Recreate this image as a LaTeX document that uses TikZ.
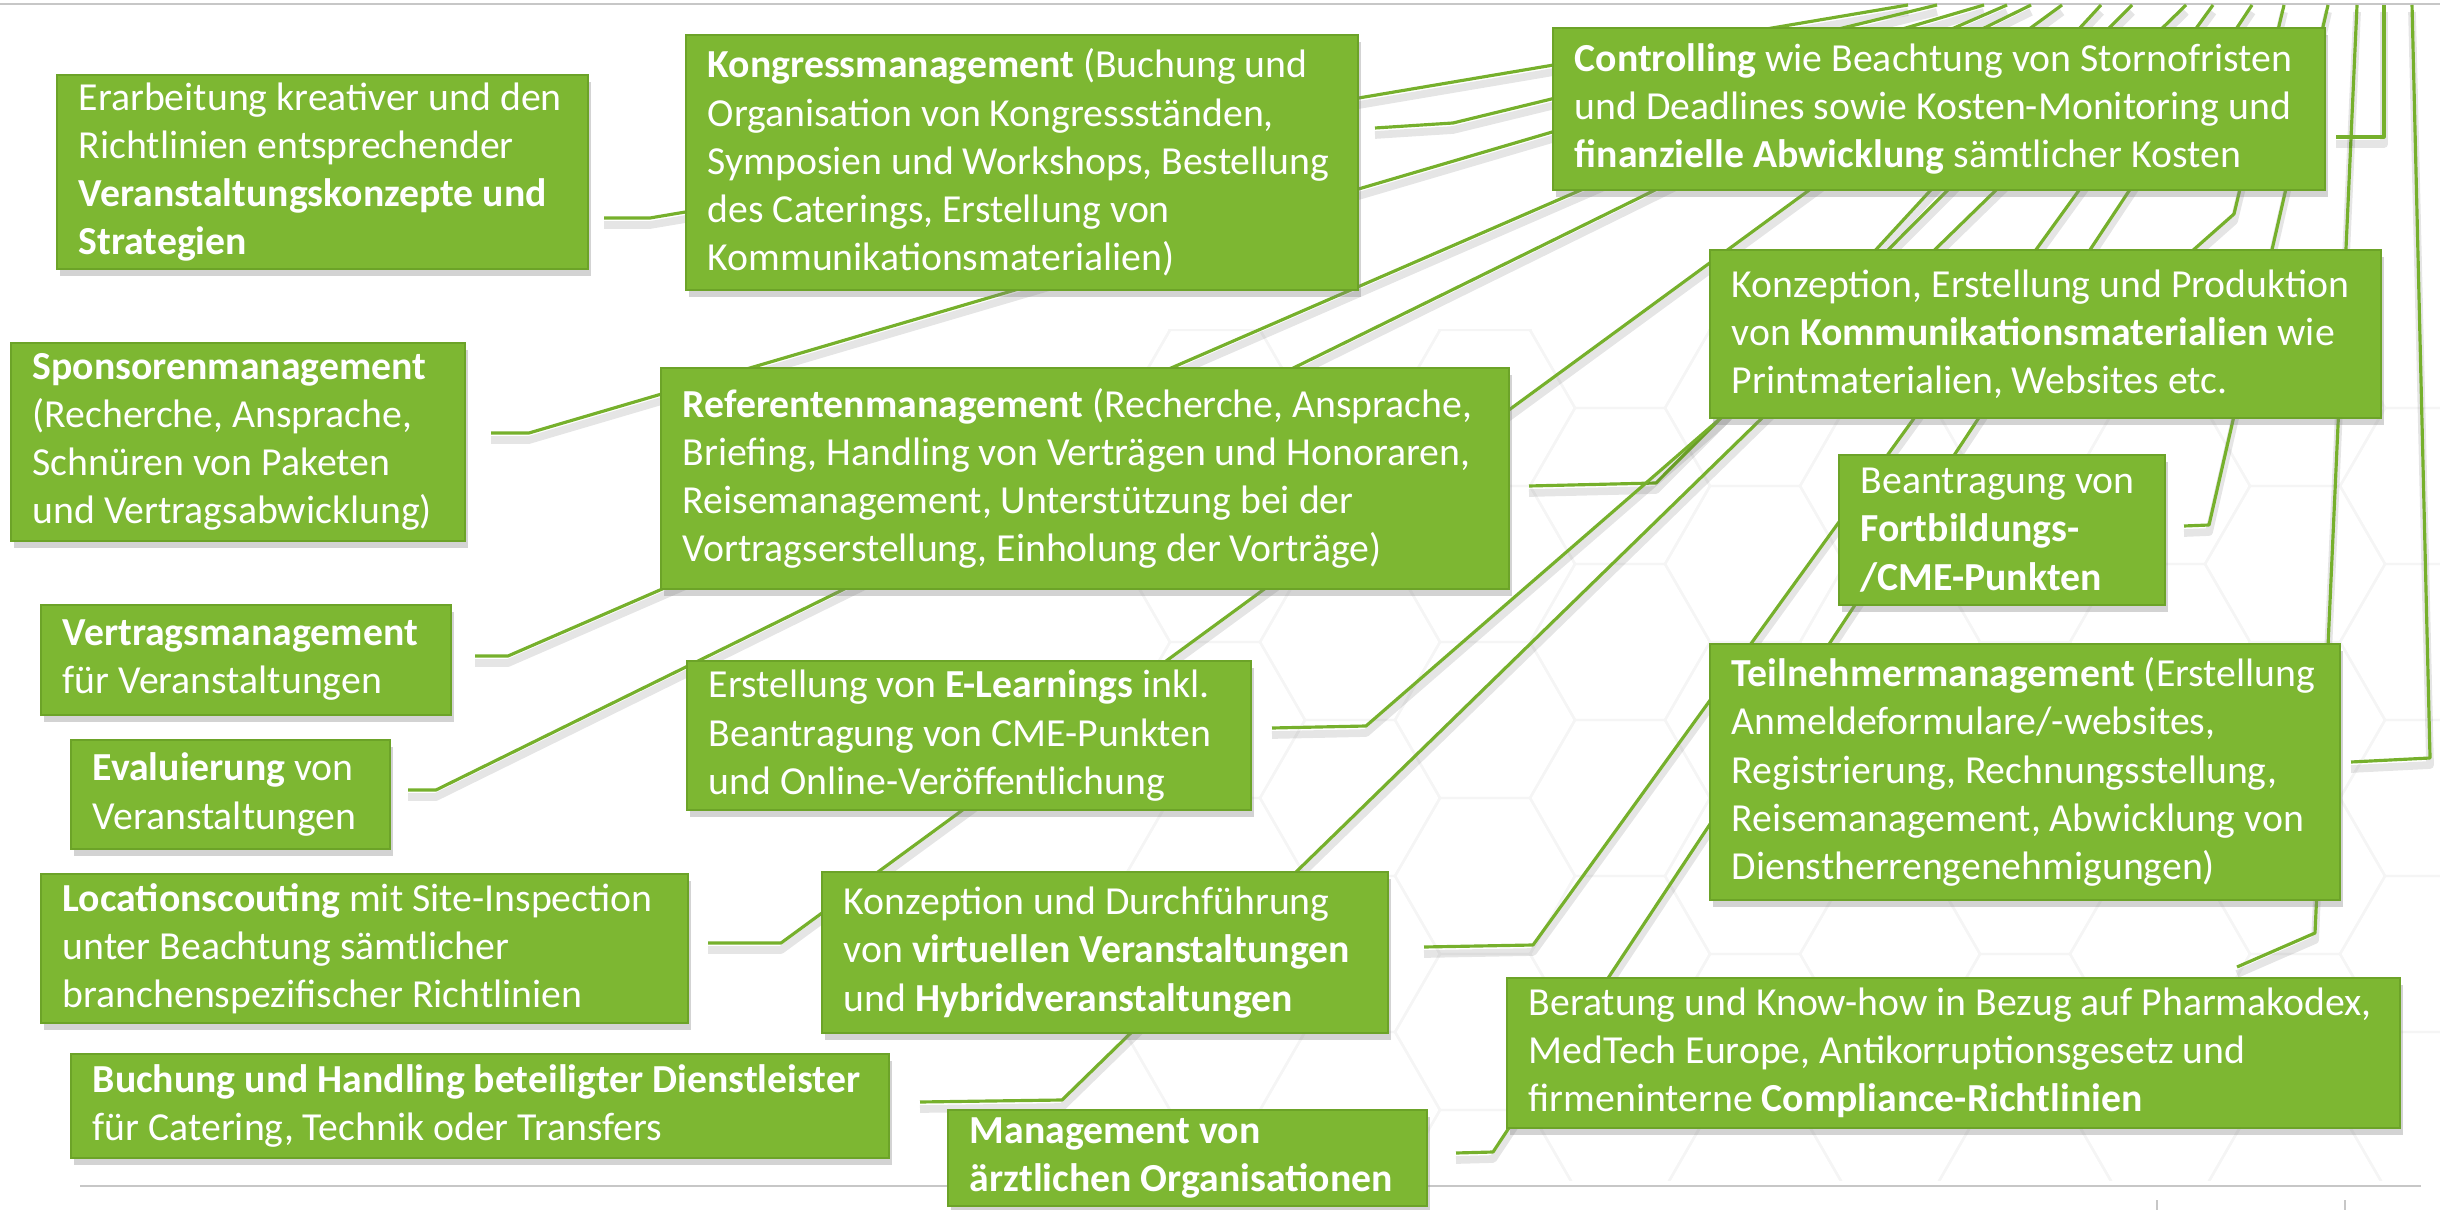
\documentclass[tikz,border=0pt]{standalone}
\usepackage{fontspec}
\setmainfont{Carlito}
\usetikzlibrary{shadows}

\definecolor{boxgreen}{RGB}{125,183,50}
\definecolor{edgegreen}{RGB}{108,163,40}
\definecolor{linegreen}{RGB}{118,176,44}

\tikzset{
  card/.style={draw=edgegreen, fill=boxgreen, line width=0.6pt, anchor=north west, inner sep=0pt,
    drop shadow={shadow xshift=0.03cm, shadow yshift=-0.07cm, opacity=0.35}},
  cardtext/.style={anchor=west, align=left, text=white, inner sep=0pt,
    font=\fontsize{11.3}{13.7}\selectfont},
  link/.style={linegreen, line width=0.9pt, line join=round},
  linkshade/.style={black, opacity=0.10, line width=2.2pt, line join=round,
    transform canvas={yshift=-0.07cm}},
  hexline/.style={black!4, line width=0.7pt},
  rule/.style={black!22, line width=0.8pt}
}

% box: name, x0, y0, x1, y1, text
\newcommand{\card}[6]{%
  \pgfmathsetmacro{\cardw}{(#4-#2)*0.01}%
  \pgfmathsetmacro{\cardh}{(#5-#3)*0.01}%
  \node[card, minimum width=\cardw cm, minimum height=\cardh cm] (#1) at (#2,#3) {};
  \node[cardtext] (#1-t) at ([xshift=0.22cm]#1.west) {#6};
}

\begin{document}
\begin{tikzpicture}[x=0.01cm,y=-0.01cm]
\useasboundingbox (0,0) rectangle (2440,1210);

% faint honeycomb in the background
\begin{scope}
\clip (1050,330) rectangle (2440,1180);
\foreach \i in {0,...,11}
  \foreach \j in {0,...,6}{
    \pgfmathsetmacro\hx{1080+\i*135}
    \pgfmathsetmacro\hy{330+\j*156+mod(\i,2)*78}
    \draw[hexline] (\hx,\hy) +(90,0) -- +(45,78) -- +(-45,78) -- +(-90,0) -- +(-45,-78) -- +(45,-78) -- cycle;
  }
\end{scope}

% page rules
\draw[rule] (0,4) -- (2440,4);
\draw[rule] (80,1186) -- (2421,1186);
\draw[rule] (2157,1200) -- (2157,1210);
\draw[rule] (2345,1200) -- (2345,1210);

% where the lines meet the top rule
\foreach \n/\x in {1/1908,2/1937,3/1984,4/2007,5/2031,6/2062,7/2101,8/2132,
                   9/2186,10/2213,11/2252,12/2284,13/2328,14/2357,15/2384,16/2412}
  \coordinate (t\n) at (\x,5);

% connectors
\foreach \s/\b/\e in {
  {(604,218)}/{(650,218)}/t1,
  {(1375,128)}/{(1453,123)}/t2,
  {(491,433)}/{(529,433)}/t3,
  {(475,656)}/{(508,656)}/t4,
  {(408,790)}/{(436,790)}/t5,
  {(708,943)}/{(781,943)}/t6,
  {(1529,486)}/{(1656,483)}/t8,
  {(920,1102)}/{(1062,1100)}/t9,
  {(1424,947)}/{(1533,945)}/t10,
  {(1456,1153)}/{(1493,1152)}/t11,
  {(2191,252)}/{(2234,214)}/t12,
  {(2184,526)}/{(2209,525)}/t13,
  {(2237,967)}/{(2315,933)}/t14,
  {(2336,137)}/{(2384,137)}/t15,
  {(2351,762)}/{(2430,758)}/t16}{
  \draw[linkshade] \s -- \b -- (\e);
  \draw[link] \s -- \b -- (\e);
}
\draw[linkshade] (1272,728) -- (1366,726) -- (1722,417) -- (t7);
\draw[link] (1272,728) -- (1366,726) -- (1722,417) -- (t7);

% boxes
\card{konzepte}{56}{74}{587}{268}{Erarbeitung kreativer und den\\Richtlinien entsprechender\\\textbf{Veranstaltungskonzepte und}\\\textbf{Strategien}}
\card{kongress}{685}{34}{1357}{289}{\textbf{Kongressmanagement} (Buchung und\\Organisation von Kongressständen,\\Symposien und Workshops, Bestellung\\des Caterings, Erstellung von\\Kommunikationsmaterialien)}
\card{controlling}{1552}{27}{2324}{189}{\textbf{Controlling} wie Beachtung von Stornofristen\\und Deadlines sowie Kosten-Monitoring und\\\textbf{finanzielle Abwicklung} sämtlicher Kosten}
\card{material}{1709}{249}{2380}{417}{Konzeption, Erstellung und Produktion\\von \textbf{Kommunikationsmaterialien} wie\\Printmaterialien, Websites etc.}
\card{sponsoren}{10}{342}{464}{540}{\textbf{Sponsorenmanagement}\\(Recherche, Ansprache,\\Schnüren von Paketen\\und Vertragsabwicklung)}
\card{referenten}{660}{367}{1508}{588}{\textbf{Referentenmanagement} (Recherche, Ansprache,\\Briefing, Handling von Verträgen und Honoraren,\\Reisemanagement, Unterstützung bei der\\Vortragserstellung, Einholung der Vorträge)}
\card{cme}{1838}{454}{2164}{604}{Beantragung von\\\textbf{Fortbildungs-}\\\textbf{/CME-Punkten}}
\card{teilnehmer}{1709}{643}{2339}{899}{\textbf{Teilnehmermanagement} (Erstellung\\Anmeldeformulare/-websites,\\Registrierung, Rechnungsstellung,\\Reisemanagement, Abwicklung von\\Dienstherrengenehmigungen)}
\card{vertrag}{40}{604}{450}{714}{\textbf{Vertragsmanagement}\\für Veranstaltungen}
\card{evaluierung}{70}{739}{389}{848}{\textbf{Evaluierung} von\\Veranstaltungen}
\card{elearning}{686}{660}{1250}{809}{Erstellung von \textbf{E-Learnings} inkl.\\Beantragung von CME-Punkten\\und Online-Veröffentlichung}
\card{location}{40}{873}{687}{1022}{\textbf{Locationscouting} mit Site-Inspection\\unter Beachtung sämtlicher\\branchenspezifischer Richtlinien}
\card{virtuell}{821}{871}{1387}{1032}{Konzeption und Durchführung\\von \textbf{virtuellen Veranstaltungen}\\und \textbf{Hybridveranstaltungen}}
\card{dienstleister}{70}{1053}{888}{1157}{\textbf{Buchung und Handling beteiligter Dienstleister}\\für Catering, Technik oder Transfers}
\card{aerzte}{947}{1109}{1426}{1205}{\textbf{Management von}\\\textbf{ärztlichen Organisationen}}
\card{compliance}{1506}{977}{2399}{1127}{Beratung und Know-how in Bezug auf Pharmakodex,\\MedTech Europe, Antikorruptionsgesetz und\\firmeninterne \textbf{Compliance-Richtlinien}}

\end{tikzpicture}
\end{document}
